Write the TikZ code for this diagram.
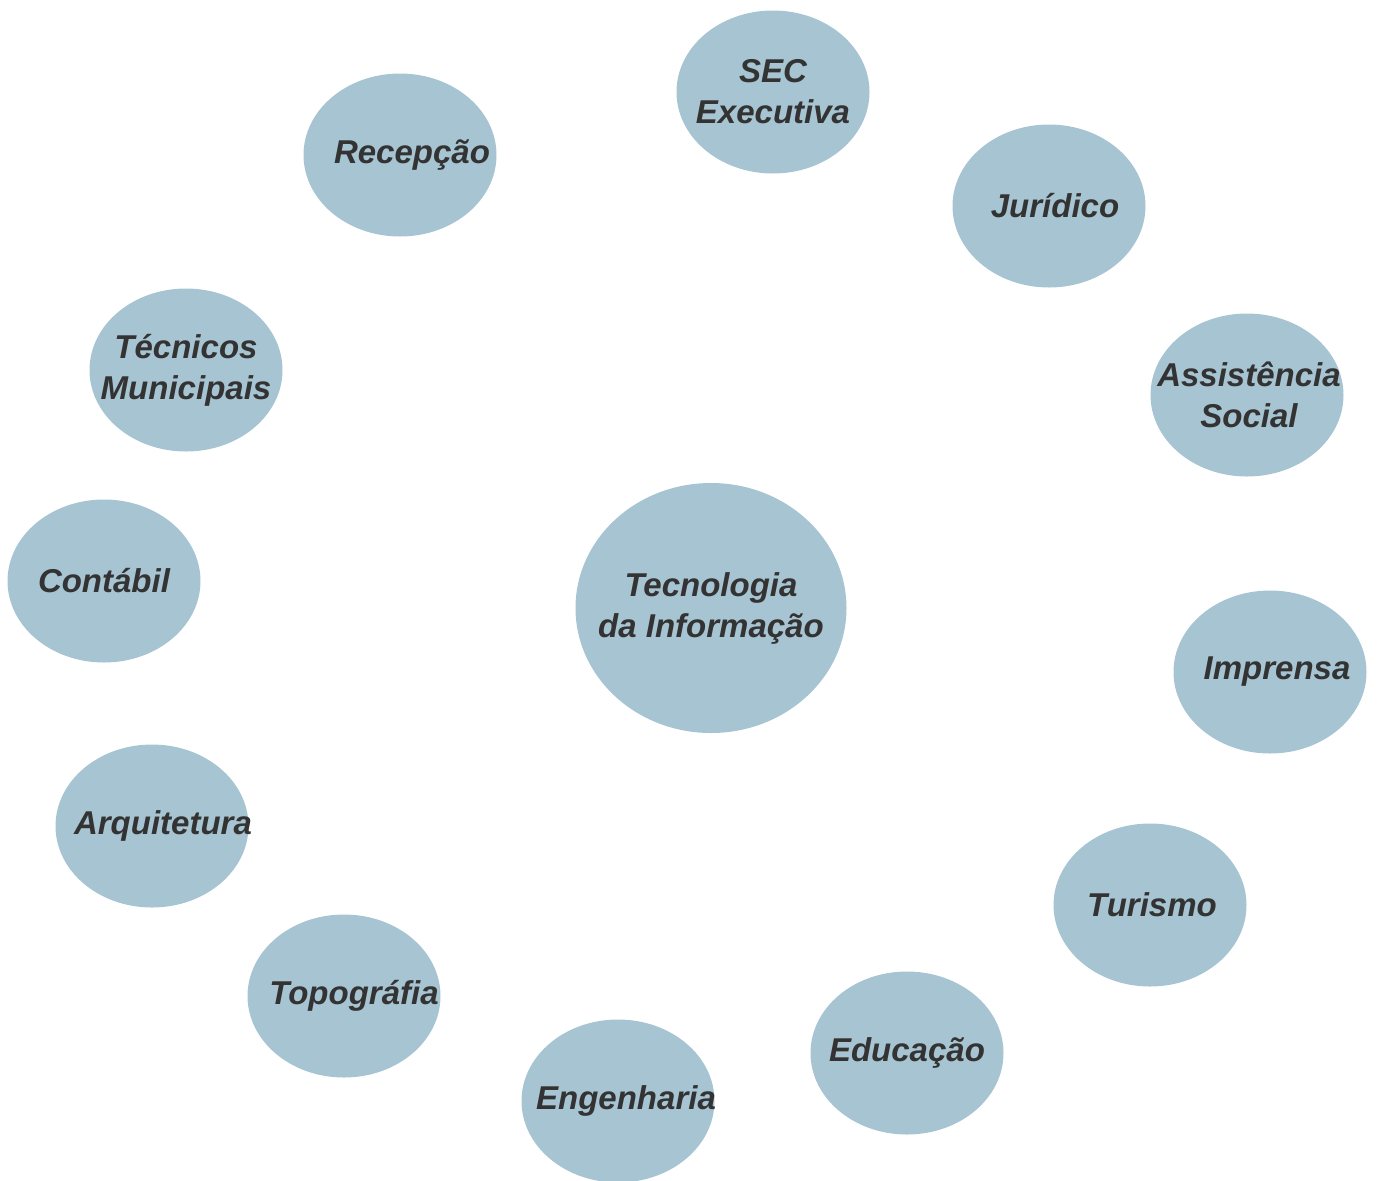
\documentclass[tikz,border=0pt]{standalone}
\usepackage{fontspec}
\setmainfont{Liberation Sans}
\usetikzlibrary{shapes.geometric}
\definecolor{bub}{HTML}{A7C4D2}
\definecolor{txt}{HTML}{333333}
\newcommand\bt[2][0pt]{\rlap{\kern#1\makebox[0pt]{#2}}}
\tikzset{
  bubble/.style={ellipse, fill=bub, draw=none, minimum width=96.5pt, minimum height=81.5pt, inner sep=0pt,
    font=\fontsize{16.5}{20.5}\selectfont\bfseries\itshape, text=txt, align=center},
  bigbubble/.style={bubble, minimum width=135.5pt, minimum height=125pt}
}
\begin{document}
\begin{tikzpicture}[x=0.5pt,y=-0.5pt]
\useasboundingbox (0,0) rectangle (1377,1180);
\node[bubble] (sec) at (773,92) {\bt{SEC}\\\bt{Executiva}};
\node[bubble] (rec) at (400,155) {\bt[6pt]{Recepção}};
\node[bubble] (jur) at (1049,206) {\bt[3pt]{Jurídico}};
\node[bubble] (tec) at (186,370) {\bt{Técnicos}\\\bt{Municipais}};
\node[bubble] (ass) at (1247,395) {\bt[1pt]{Assistência}\\\bt[1pt]{Social}};
\node[bubble] (con) at (104,581) {\bt{Contábil}};
\node[bigbubble] (ti) at (711,608) {\bt{Tecnologia}\\\bt{da Informação}};
\node[bubble] (imp) at (1270,672) {\bt[3.5pt]{Imprensa}};
\node[bubble] (arq) at (152,826) {\bt[5.5pt]{Arquitetura}};
\node[bubble] (tur) at (1150,905) {\bt[1pt]{Turismo}};
\node[bubble] (top) at (344,996) {\bt[5pt]{Topográfia}};
\node[bubble] (edu) at (907,1053) {\bt{Educação}};
\node[bubble] (eng) at (618,1101) {\bt[4pt]{Engenharia}};
\end{tikzpicture}
\end{document}
